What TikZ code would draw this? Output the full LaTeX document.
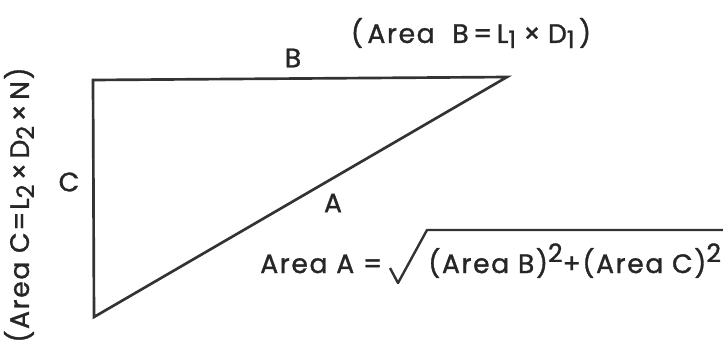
\documentclass[tikz,border=0pt]{standalone}
\usepackage{fontspec}
\setmainfont[FakeBold=1.2,LetterSpace=6]{Poppins}
\newcommand\mysub[1]{\raisebox{-0.35ex}{\fontsize{18}{18}\selectfont #1}}
\newcommand\mysup[1]{\raisebox{0.75ex}{\fontsize{19}{19}\selectfont #1}}
\begin{document}
\begin{tikzpicture}[x=0.75pt,y=-0.75pt,
  lbl/.style={font=\fontsize{20}{22}\selectfont, inner sep=0, text=black!85},
  edge/.style={line width=2pt, line join=miter, draw=black!80}]
\useasboundingbox (0,0) rectangle (723,361);
\coordinate (tl) at (93,80);
\coordinate (tr) at (507,77);
\coordinate (bl) at (94,317);
\draw[edge] (tl) -- (tr) -- (bl) -- cycle;
\node[lbl] (B) at (293,58) {B};
\node[lbl] (C) at (69,182) {C};
\node[lbl] (A) at (333,203) {A};
\node[lbl] (areaB) at (471,33) {(\,Area\,\, B\,=\,L\mysub{1}\;×\;D\mysub{1}\,)};
\node[lbl, rotate=90] (areaC) at (19,205) {(Area C=L\mysub{2}\,×\,D\mysub{2}\,×\,N)};
\node[lbl, anchor=base west] (areaA) at (260,273) {Area A =};
\node[lbl, anchor=base west] (sum) at (428,273) {(Area B)\mysup{2}+(Area C)\mysup{2}};
\draw[edge, line width=1.8pt, line join=round] (390,268) -- (398,283) -- (427,230) -- (723,230);
\end{tikzpicture}
\end{document}
